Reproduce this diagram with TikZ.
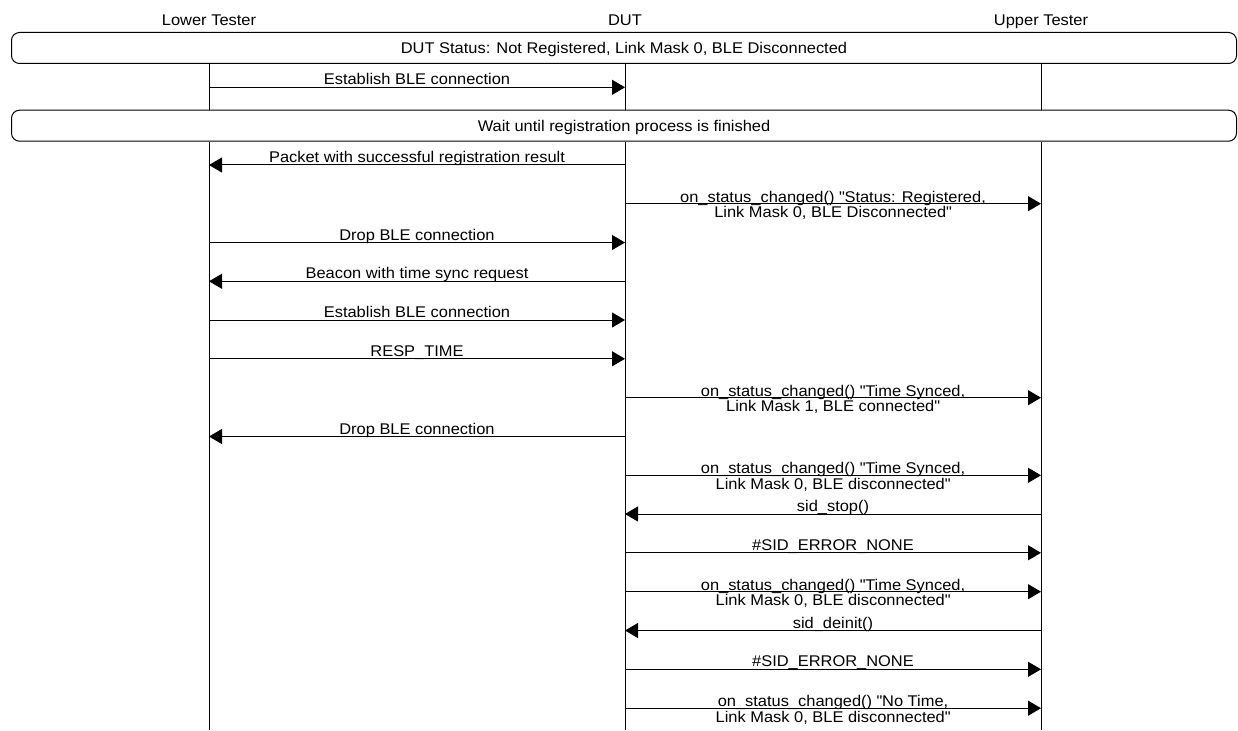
\documentclass[tikz,border=0pt]{standalone}
\usepackage{fontspec}
\setmainfont{Liberation Sans}[FakeStretch=1.06]
\usetikzlibrary{arrows.meta}
\newcommand\qd{\textquotedbl}
\tikzset{
  txt/.style={inner sep=0pt, font=\fontsize{15.5}{15.5}\selectfont},
  head/.style={txt, anchor=base},
  statebox/.style={draw=black, line width=1pt, rounded corners=8pt, minimum width=1225pt, minimum height=31pt, inner sep=0pt, text height=11pt, text depth=0pt, font=\fontsize{15.5}{15.5}\selectfont},
  life/.style={draw=black, line width=1pt},
  msg/.style={draw=black, line width=1pt, -{Triangle[length=13pt,width=15pt]}},
  lbl/.style={txt, anchor=base, yshift=2.5pt, align=center},
  lbltwo/.style={txt, anchor=base, yshift=-13.8pt, align=center},
}
\begin{document}
\begin{tikzpicture}[x=1pt,y=-1pt]
\useasboundingbox (0,0) rectangle (1238,730);
% headers
\node[head] (lt) at (209,26) {Lower Tester};
\node[head] (dut) at (625,26) {DUT};
\node[head] (ut) at (1041,26) {Upper Tester};
% state boxes
\node[statebox] (s1) at (624,48) {DUT Status: Not Registered, Link Mask 0, BLE Disconnected};
\node[statebox] (s2) at (624,125.7) {Wait until registration process is finished};
\coordinate (bot) at (625,730);
% lifelines
\foreach \p in {lt,dut,ut}{
  \draw[life] (\p |- s1.south) -- (\p |- s2.north);
  \draw[life] (\p |- s2.south) -- (\p |- bot);
}
% message rows
\foreach \n/\y in {1/87.3,2/165,3/203.7,4/242.5,5/281.3,6/320,7/358.8,8/397.7,9/436.5,10/475.3,11/514,12/552.8,13/591.7,14/630.5,15/669.3,16/708.2}{
  \coordinate (L\n) at (209,\y);
  \coordinate (D\n) at (625,\y);
  \coordinate (U\n) at (1041,\y);
}
\draw[msg] (L1) -- (D1) node[midway,lbl] {Establish BLE connection};
\draw[msg] (D2) -- (L2) node[midway,lbl] {Packet with successful registration result};
\draw[msg] (D3) -- (U3) node[midway,lbltwo] {on\_status\_changed() \qd Status: Registered,\\Link Mask 0, BLE Disconnected\qd};
\draw[msg] (L4) -- (D4) node[midway,lbl] {Drop BLE connection};
\draw[msg] (D5) -- (L5) node[midway,lbl] {Beacon with time sync request};
\draw[msg] (L6) -- (D6) node[midway,lbl] {Establish BLE connection};
\draw[msg] (L7) -- (D7) node[midway,lbl] {RESP\_TIME};
\draw[msg] (D8) -- (U8) node[midway,lbltwo] {on\_status\_changed() \qd Time Synced,\\Link Mask 1, BLE connected\qd};
\draw[msg] (D9) -- (L9) node[midway,lbl] {Drop BLE connection};
\draw[msg] (D10) -- (U10) node[midway,lbltwo] {on\_status\_changed() \qd Time Synced,\\Link Mask 0, BLE disconnected\qd};
\draw[msg] (U11) -- (D11) node[midway,lbl] {sid\_stop()};
\draw[msg] (D12) -- (U12) node[midway,lbl] {\#SID\_ERROR\_NONE};
\draw[msg] (D13) -- (U13) node[midway,lbltwo] {on\_status\_changed() \qd Time Synced,\\Link Mask 0, BLE disconnected\qd};
\draw[msg] (U14) -- (D14) node[midway,lbl] {sid\_deinit()};
\draw[msg] (D15) -- (U15) node[midway,lbl] {\#SID\_ERROR\_NONE};
\draw[msg] (D16) -- (U16) node[midway,lbltwo] {on\_status\_changed() \qd No Time,\\Link Mask 0, BLE disconnected\qd};
\end{tikzpicture}
\end{document}
